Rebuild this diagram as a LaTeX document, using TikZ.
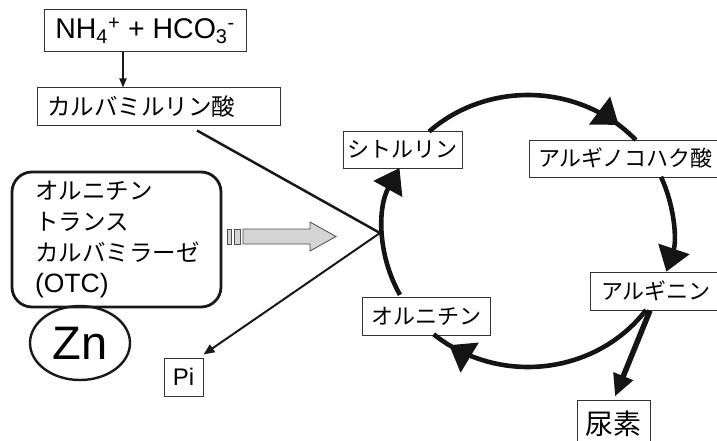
\documentclass[tikz,border=0pt]{standalone}
\usepackage{fontspec}
\setmainfont{Liberation Sans}
\newfontfamily\jp{Noto Sans CJK JP}
\usetikzlibrary{arrows.meta,decorations.markings,shapes.geometric}
\begin{document}
\begin{tikzpicture}[x=1pt,y=1pt,
 box/.style={draw=black!80, line width=1pt, fill=white, inner sep=0pt},
 lbl/.style={box, font=\jp\fontsize{22}{26}\selectfont},
 cyc/.style={line width=4.6pt, draw=black!92},
 tri/.style={line width=2.5pt, draw=black!90},
 bigtip/.style={-{Triangle[length=24pt,width=32pt]}},
 midtip/.style={postaction={decorate},
   decoration={markings, mark=at position #1 with {\arrow{Triangle[length=24pt,width=34pt]}}}},
]
\useasboundingbox (0,0) rectangle (717,440);

% left side
\node[box, minimum width=202pt, minimum height=42pt, font=\fontsize{28.5}{32}\selectfont]
  (nh4) at (145,409) {NH\textsubscript{4}\textsuperscript{+} + HCO\textsubscript{3}\textsuperscript{-}};
\node[box, minimum width=243pt, minimum height=37pt, text width=223pt, inner xsep=10pt, align=left,
  font=\jp\fontsize{23.5}{26}\selectfont] (carb) at (158.5,333.5) {カルバミルリン酸};
\draw[line width=1.8pt, draw=black!90, -{Triangle[length=9pt,width=7pt]}]
  ([xshift=-22pt]nh4.south) -- ([xshift=-22pt]nh4.south |- carb.north);

\node[draw=black!90, line width=2.8pt, rounded corners=20pt, minimum width=209pt, minimum height=135pt,
  text width=163pt, inner xsep=23pt, align=left, font=\fontsize{23.5}{31}\selectfont]
  (otc) at (116.5,200.5) {{\jp オルニチン}\\{\jp トランス}\\{\jp カルバミラーゼ}\\{\fontsize{26.5}{31}\selectfont(OTC)}};
\node[ellipse, draw=black!90, line width=2.4pt, minimum width=100pt, minimum height=74pt, inner sep=0pt,
  font=\fontsize{47}{50}\selectfont] (zn) at (80,97) {Zn};
\node[box, minimum width=39pt, minimum height=38pt, font=\fontsize{24}{26}\selectfont] (pi) at (183.5,63) {Pi};

% gray block arrow
\draw[draw=black!70, line width=0.8pt, fill=black!17] (227,196) rectangle (231,211);
\draw[draw=black!70, line width=0.8pt, fill=black!17] (234,196) rectangle (240,211);
\draw[draw=black!70, line width=0.8pt, fill=black!17]
  (243,211) -- (310,211) -- (310,218) -- (336,203.5) -- (310,189) -- (310,196) -- (243,196) -- cycle;

% triangle lines
\coordinate (s) at ([shift={(38.5,-5)}]carb.south);
\coordinate (v) at (380,207);
\draw[tri] (s) -- (v);
\draw[tri, line width=2pt, -{Triangle[length=11pt,width=9pt]}] (v) -- ([yshift=3pt]pi.north east);

% cycle
\coordinate (C) at (528,209);
\node[lbl, minimum width=119pt, minimum height=37pt] (cit) at (402.5,290.5) {シトルリン};
\node[lbl, minimum width=193pt, minimum height=37pt] (asa) at (625.5,281.5) {アルギノコハク酸};
\node[lbl, minimum width=132pt, minimum height=38pt] (arg) at (656,149) {アルギニン};
\node[lbl, minimum width=128pt, minimum height=38pt] (orn) at (426,124) {オルニチン};
\node[lbl, minimum width=73pt, minimum height=48pt, font=\jp\fontsize{28}{32}\selectfont] (urea) at (613.5,16) {尿素};

\draw[cyc, midtip=0.9] (C) ++(133:145 and 136) arc[start angle=133, end angle=42, x radius=145, y radius=136];
\draw[cyc, bigtip] (C) ++(23.5:145 and 136) arc[start angle=23.5, end angle=-17.4, x radius=145, y radius=136];
\draw[cyc, midtip=0.92] (C) ++(-35.5:145 and 136) arc[start angle=-35.5, end angle=-130.6, x radius=145, y radius=136];
\draw[cyc, bigtip] (C) ++(208:145 and 136) arc[start angle=208, end angle=152.4, x radius=145, y radius=136];

\draw[line width=5.5pt, draw=black!92, -{Triangle[length=22pt,width=20pt]}]
  ([xshift=-6pt]arg.south) -- ([xshift=1.5pt,yshift=3pt]urea.north);
\end{tikzpicture}
\end{document}
